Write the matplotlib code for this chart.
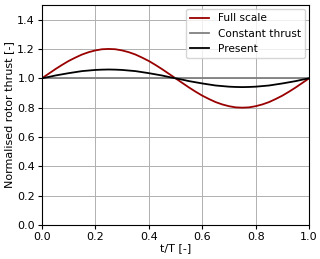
import matplotlib
matplotlib.use("Agg")
import matplotlib.pyplot as plt

t_over_T = [0.000, 0.025, 0.050, 0.075, 0.100, 0.125, 0.150, 0.175, 0.200, 0.225,
            0.250, 0.275, 0.300, 0.325, 0.350, 0.375, 0.400, 0.425, 0.450, 0.475,
            0.500, 0.525, 0.550, 0.575, 0.600, 0.625, 0.650, 0.675, 0.700, 0.725,
            0.750, 0.775, 0.800, 0.825, 0.850, 0.875, 0.900, 0.925, 0.950, 0.975, 1.000]

full_scale = [1.000, 1.031, 1.062, 1.091, 1.118, 1.141, 1.162, 1.178, 1.190, 1.198,
              1.200, 1.198, 1.190, 1.178, 1.162, 1.141, 1.118, 1.091, 1.062, 1.031,
              1.000, 0.969, 0.938, 0.909, 0.882, 0.859, 0.838, 0.822, 0.810, 0.802,
              0.800, 0.802, 0.810, 0.822, 0.838, 0.859, 0.882, 0.909, 0.938, 0.969, 1.000]

constant = [1.0] * len(t_over_T)

present = [1.000, 1.009, 1.019, 1.027, 1.035, 1.042, 1.049, 1.053, 1.057, 1.059,
           1.060, 1.059, 1.057, 1.053, 1.049, 1.042, 1.035, 1.027, 1.019, 1.009,
           1.000, 0.991, 0.981, 0.973, 0.965, 0.958, 0.951, 0.947, 0.943, 0.941,
           0.940, 0.941, 0.943, 0.947, 0.951, 0.958, 0.965, 0.973, 0.981, 0.991, 1.000]

x_ticks = [0.0, 0.2, 0.4, 0.6, 0.8, 1.0]
y_ticks = [0.0, 0.2, 0.4, 0.6, 0.8, 1.0, 1.2, 1.4]

fs = 8
fig = plt.figure(figsize=(3.2, 2.59), dpi=100)
ax = fig.add_axes([0.131, 0.131, 0.835, 0.850])

ax.plot(t_over_T, full_scale, color="#990000", lw=1.3, label="Full scale")
ax.plot(t_over_T, constant, color="#808080", lw=1.3, label="Constant thrust")
ax.plot(t_over_T, present, color="black", lw=1.3, label="Present")

ax.set_xlim(0, 1)
ax.set_ylim(0, 1.5)
ax.set_xticks(x_ticks)
ax.set_yticks(y_ticks)
ax.tick_params(labelsize=fs, length=3, pad=2)
ax.grid(True, color="#b0b0b0", lw=0.7)
ax.set_axisbelow(True)
for s in ax.spines.values():
    s.set_linewidth(0.8)
ax.set_xlabel("t/T [-]", fontsize=fs, labelpad=1)
ax.set_ylabel("Normalised rotor thrust [-]", fontsize=fs, labelpad=2)
ax.legend(loc="upper right", fontsize=7.6, handlelength=1.8, borderaxespad=0.4)

fig.savefig("out.png", dpi=100)
